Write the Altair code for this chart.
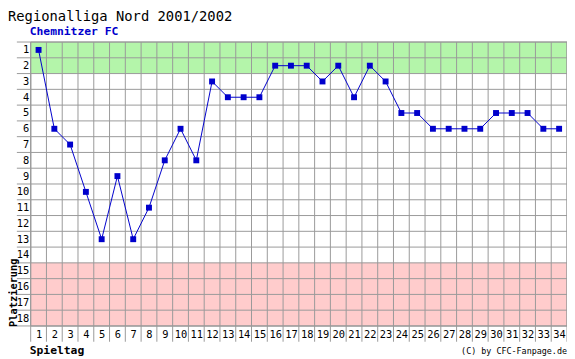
import altair as alt
import numpy as np
import pandas as pd

spieltag = list(range(1, 35))
platz = [1, 6, 7, 10, 13, 9, 13, 11, 8, 6, 8, 3, 4, 4, 4, 2, 2, 2, 3, 2,
         4, 2, 3, 5, 5, 6, 6, 6, 6, 5, 5, 5, 6, 6]
n_teams = 18
n_days = 34
zones = [
    {"from": 1, "to": 2, "color": "#b4f5aa"},
    {"from": 15, "to": 18, "color": "#ffcccc"},
]

W = 544
H = 288
FONT = "DejaVu Sans Mono"

df = pd.DataFrame({"Spieltag": spieltag, "Platz": platz})
zone_df = pd.DataFrame([{"y": z["from"] - 0.5, "y2": z["to"] + 0.5, "color": z["color"]} for z in zones])
vlines = pd.DataFrame({"v": np.arange(0, n_days + 1) + 0.5})
hlines = pd.DataFrame({"h": np.arange(0, n_teams + 1) + 0.5})

xs = alt.Scale(domain=[0.5, n_days + 0.5], nice=False, zero=False)
ys = alt.Scale(domain=[0.5, n_teams + 0.5], reverse=True, nice=False, zero=False)

xaxis = alt.Axis(values=spieltag, title=None, labelOverlap=False, labelPadding=4)
yaxis = alt.Axis(values=list(range(1, n_teams + 1)), title=None, labelOverlap=False, labelPadding=2)

bands = alt.Chart(zone_df).mark_rect().encode(
    x=alt.value(0), x2=alt.value(W),
    y=alt.Y("y:Q", scale=ys, axis=yaxis), y2="y2:Q",
    color=alt.Color("color:N", scale=None),
)

vgrid = alt.Chart(vlines).mark_rule(color="#999999", strokeWidth=1).encode(
    x=alt.X("v:Q", scale=xs, axis=xaxis), y=alt.value(0), y2=alt.value(H + 16)
)
hgrid = alt.Chart(hlines).mark_rule(color="#999999", strokeWidth=1).encode(
    y=alt.Y("h:Q", scale=ys, axis=yaxis), x=alt.value(-14), x2=alt.value(W)
)

line = alt.Chart(df).mark_line(color="#0000cc", strokeWidth=1).encode(
    x=alt.X("Spieltag:Q", scale=xs, axis=xaxis), y=alt.Y("Platz:Q", scale=ys, axis=yaxis)
)
pts = alt.Chart(df).mark_square(color="#0000cc", size=36, opacity=1).encode(
    x=alt.X("Spieltag:Q", scale=xs, axis=xaxis), y=alt.Y("Platz:Q", scale=ys, axis=yaxis)
)

frame = alt.Chart(pd.DataFrame({"a": [0]})).mark_rect(fill=None, stroke="#999999", strokeWidth=1).encode(
    x=alt.value(0), x2=alt.value(W), y=alt.value(0), y2=alt.value(H)
)

def label(text, x, y, size, color="#000", weight="normal", align="left", angle=0, baseline="alphabetic"):
    return alt.Chart(pd.DataFrame({"t": [text]})).mark_text(
        font=FONT, fontSize=size, color=color, fontWeight=weight, align=align,
        angle=angle, baseline=baseline
    ).encode(text="t:N", x=alt.value(x), y=alt.value(y))

title = label("Regionalliga Nord 2001/2002", -23, -21, 14)
subtitle = label("Chemnitzer FC", -1, -7, 11.5, color="#0000cc", weight="bold")
ytitle = label("Platzierung", -14, H + 1, 10.5, weight="bold", angle=270, align="left")
xtitle = label("Spieltag", -1, H + 28, 11.5, weight="bold")
copy = label("(C) by CFC-Fanpage.de", W, H + 28, 8.5, align="right")

chart = alt.layer(bands, vgrid, hgrid, frame, line, pts, title, subtitle, ytitle, xtitle, copy).properties(
    width=W, height=H,
    autosize=alt.AutoSizeParams(type="none"),
    padding={"left": 23, "top": 32, "right": 0, "bottom": 31},
).configure_view(stroke=None).configure(background="white").configure_axis(
    labelOverlap=False, ticks=False, domain=False, grid=False,
    labelFont=FONT, labelFontSize=10.5, labelColor="#000", labelFlush=False
)

chart.save("out.html", embed_options={"renderer": "svg", "actions": False})
